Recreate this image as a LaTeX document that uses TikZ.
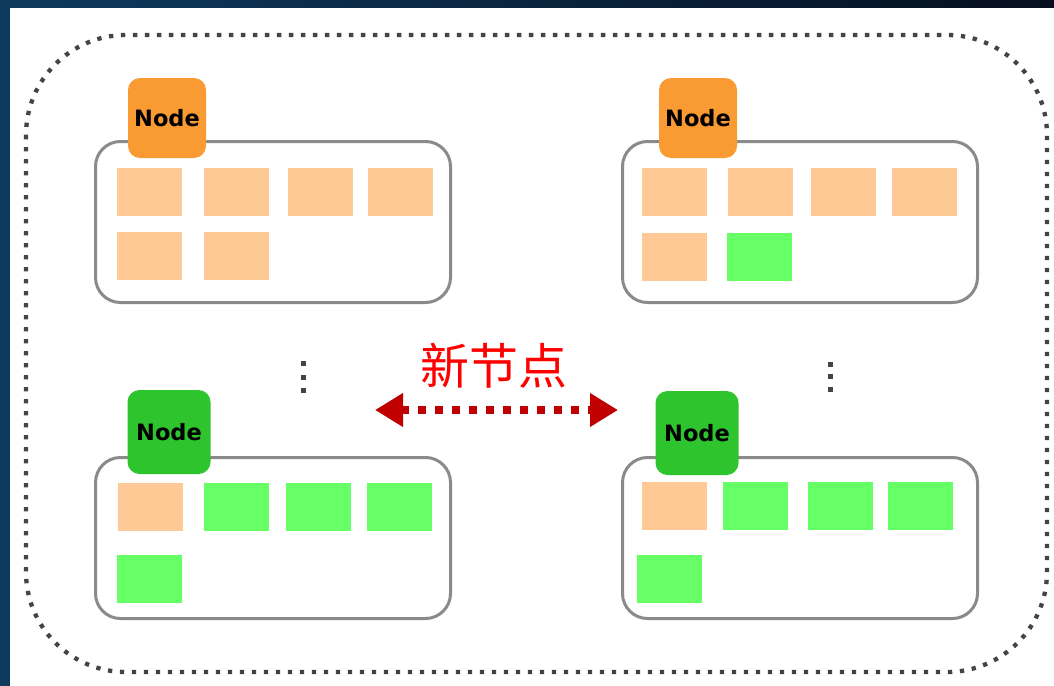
\documentclass[tikz,border=0pt]{standalone}
\usepackage{fontspec}
\usetikzlibrary{arrows.meta}
\newfontfamily\nodefont{DejaVu Sans}
\newfontfamily\cjk{Noto Sans CJK SC}
\definecolor{peach}{HTML}{FEC995}
\definecolor{lgreen}{HTML}{66FF66}
\definecolor{orangehead}{HTML}{FA9A33}
\definecolor{greenhead}{HTML}{2EC42E}
\definecolor{boxgray}{HTML}{8A8A8A}
\definecolor{dotgray}{HTML}{444444}
\definecolor{arrowred}{HTML}{C00000}
\definecolor{bgleft}{HTML}{0E3A5E}
\definecolor{bgright}{HTML}{050F1F}
\tikzset{
  x=1pt, y=-1pt,
  groupbox/.style={draw=boxgray, line width=3pt, rounded corners=25pt, fill=white,
    minimum width=355pt, minimum height=161pt, inner sep=0pt},
  sq/.style={minimum width=65pt, minimum height=48pt, inner sep=0pt, draw=none},
  head/.style={rounded corners=12pt, inner sep=0pt, text=black,
    font=\nodefont\bfseries\fontsize{22.5}{28}\selectfont},
  orangehd/.style={head, fill=orangehead, minimum width=78pt, minimum height=80pt},
  greenhd/.style={head, fill=greenhead, minimum width=83pt, minimum height=84pt},
  outer/.style={draw=dotgray, line width=4.3pt, dash pattern=on 4.3pt off 7.7pt, rounded corners=100pt},
  vdot/.style={fill=dotgray, minimum size=5pt, inner sep=0pt},
  newarrow/.style={draw=arrowred, line width=8pt, dash pattern=on 8pt off 9pt,
    {Triangle[length=28pt,width=32pt]}-{Triangle[length=28pt,width=32pt]}},
}
\begin{document}
\begin{tikzpicture}
\useasboundingbox (0,0) rectangle (1054,685);
\shade[left color=bgleft, right color=bgright] (0,0) rectangle (1054,685);
\fill[white] (10,8) rectangle (1064,695);
\draw[outer] (26,35) rectangle (1047,672);

% group boxes
\node[groupbox] (tl) at (273,222) {};
\node[groupbox] (tr) at (800,222) {};
\node[groupbox] (bl) at (273,538) {};
\node[groupbox] (br) at (800,538) {};

% top-left squares
\node[sq, fill=peach] (tl1) at (149.5,192) {};
\node[sq, fill=peach] (tl2) at (236.5,192) {};
\node[sq, fill=peach] (tl3) at (320,192) {};
\node[sq, fill=peach] (tl4) at (400.5,192) {};
\node[sq, fill=peach] (tl5) at (149.5,256) {};
\node[sq, fill=peach] (tl6) at (236.5,256) {};

% top-right squares
\node[sq, fill=peach] (tr1) at (674,192) {};
\node[sq, fill=peach] (tr2) at (760.5,192) {};
\node[sq, fill=peach] (tr3) at (843.5,192) {};
\node[sq, fill=peach] (tr4) at (924,192) {};
\node[sq, fill=peach] (tr5) at (674,256.5) {};
\node[sq, fill=lgreen] (tr6) at (759.5,256.5) {};

% bottom-left squares
\node[sq, fill=peach] (bl1) at (150,506.5) {};
\node[sq, fill=lgreen] (bl2) at (236,506.5) {};
\node[sq, fill=lgreen] (bl3) at (318.5,506.5) {};
\node[sq, fill=lgreen] (bl4) at (399,506.5) {};
\node[sq, fill=lgreen] (bl5) at (149,578.5) {};

% bottom-right squares
\node[sq, fill=peach] (br1) at (674,506) {};
\node[sq, fill=lgreen] (br2) at (755.5,506) {};
\node[sq, fill=lgreen] (br3) at (840,506) {};
\node[sq, fill=lgreen] (br4) at (920,506) {};
\node[sq, fill=lgreen] (br5) at (669.5,578.5) {};

% head labels
\node[orangehd] (htl) at (167,118) {Node};
\node[orangehd] (htr) at (698,118) {Node};
\node[greenhd] (hbl) at (169,432) {Node};
\node[greenhd] (hbr) at (697,433) {Node};

% vertical ellipsis dots
\node[vdot] (d1a) at (303,363.5) {};
\node[vdot] (d1b) at (303,377) {};
\node[vdot] (d1c) at (303,390) {};
\node[vdot] (d2a) at (830,364) {};
\node[vdot] (d2b) at (830,376.5) {};
\node[vdot] (d2c) at (830,389) {};

% new node label and arrow
\node[text=red, font=\cjk\fontsize{49}{55}\selectfont, inner sep=0pt] (newlbl) at (494,366) {新节点};
\coordinate (al) at (375,410);
\coordinate (ar) at (618,410);
\draw[newarrow] (al) -- (ar);
\end{tikzpicture}
\end{document}
